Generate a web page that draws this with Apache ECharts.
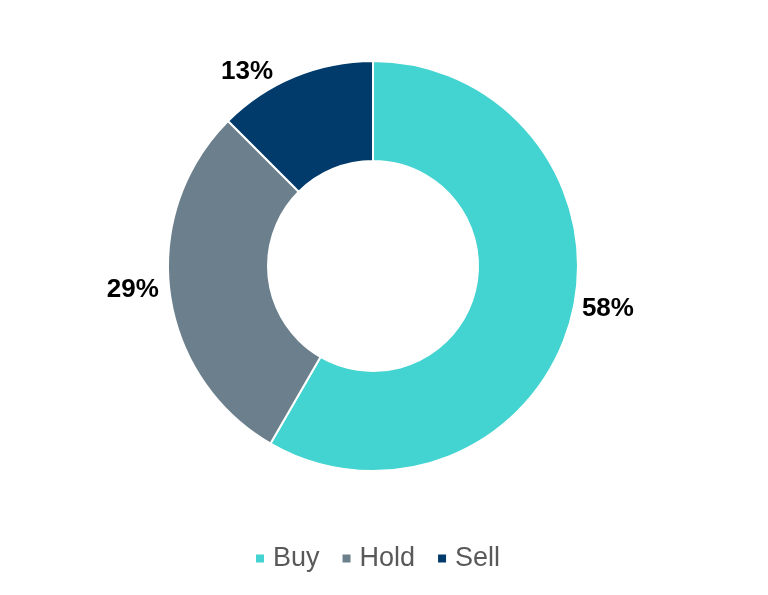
<!DOCTYPE html>
<html>
<head>
<meta charset="utf-8">
<script src="https://cdn.jsdelivr.net/npm/echarts@6/dist/echarts.min.js"></script>
<style>
  html, body { margin: 0; padding: 0; background: #fff; }
  #main { width: 768px; height: 595px; }
</style>
</head>
<body>
<div id="main"></div>
<script>
var categories = ['Buy', 'Hold', 'Sell'];
// analyst counts, shown as share of total
var counts = [14, 7, 3];
var colors = ['#43D3D1', '#6C7F8C', '#003B6B'];

var chart = echarts.init(document.getElementById('main'));

var pieData = categories.map(function (name, i) {
  return { name: name, value: counts[i], itemStyle: { color: colors[i] } };
});

var option = {
  animation: false,
  legend: {
    bottom: 18,
    left: 249,
    icon: 'rect',
    itemWidth: 10,
    itemHeight: 10,
    itemGap: 21,
    textStyle: {
      fontFamily: 'Liberation Sans, Arial',
      fontSize: 27,
      color: '#595959',
      padding: [0, 0, 0, 3]
    },
    data: categories
  },
  series: [{
    type: 'pie',
    center: [373, 266],
    radius: [105, 205],
    startAngle: 90,
    clockwise: true,
    avoidLabelOverlap: false,
    itemStyle: {
      borderColor: '#fff',
      borderWidth: 2
    },
    label: {
      show: true,
      position: 'outside',
      formatter: function (p) { return Math.round(p.percent) + '%'; },
      fontFamily: 'Liberation Sans, Arial',
      fontWeight: 'bold',
      fontSize: 26,
      color: '#000'
    },
    labelLine: {
      show: false,
      length: 4,
      length2: 4
    },
    labelLayout: function (p) {
      var dx = [-2, 2, -11][p.dataIndex];
      var dy = [-11, -3, -1][p.dataIndex];
      return { dx: dx, dy: dy };
    },
    data: pieData
  }]
};

chart.setOption(option);
</script>
</body>
</html>
